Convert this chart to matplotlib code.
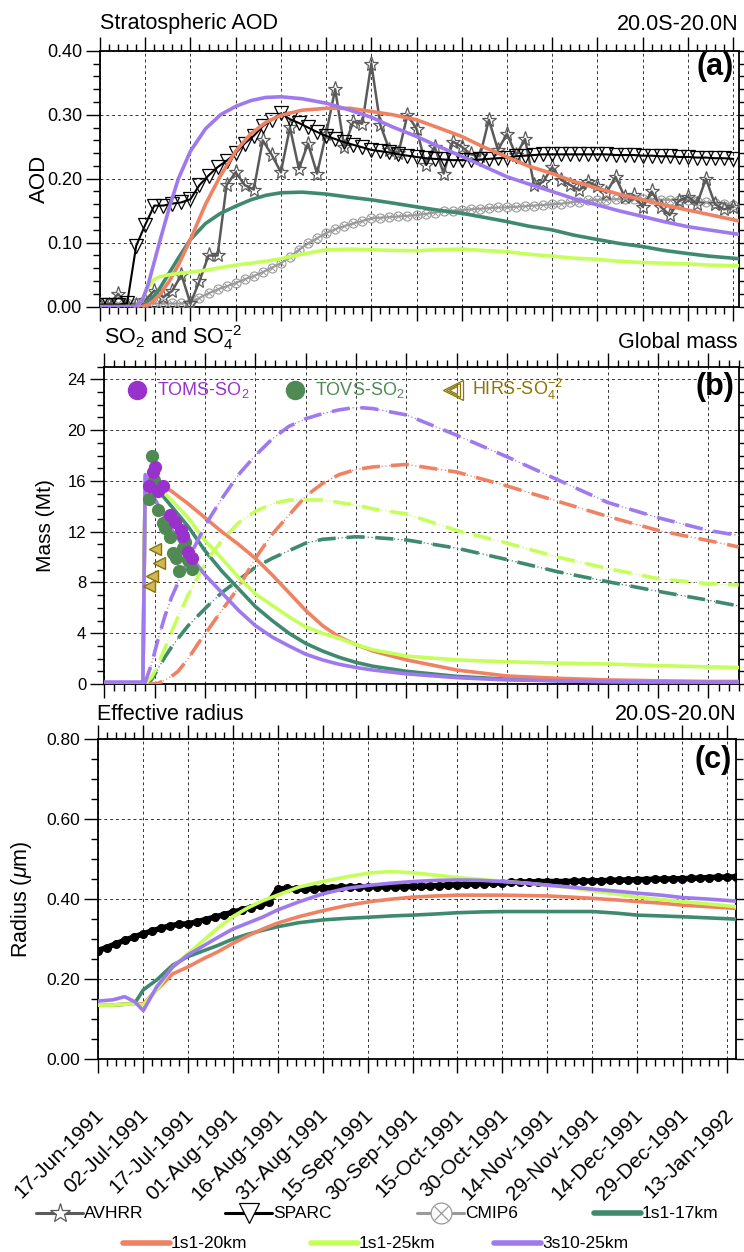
import numpy as np
import matplotlib
matplotlib.use('Agg')
import matplotlib.pyplot as plt
import matplotlib.transforms as mtransforms
from matplotlib.lines import Line2D
from matplotlib.ticker import MultipleLocator, FixedLocator

plt.rcParams['font.family'] = ['Liberation Sans', 'DejaVu Sans']
plt.rcParams['mathtext.fontset'] = 'custom'
plt.rcParams['mathtext.rm'] = 'Liberation Sans'
plt.rcParams['mathtext.it'] = 'Liberation Sans:italic'
plt.rcParams['mathtext.bf'] = 'Liberation Sans:bold'

# ---------------- x axis (days since 17-Jun-1991) ----------------
tick_days = [0, 15, 30, 45, 60, 75, 90, 105, 120, 135, 150, 165, 180, 195, 210]
tick_labels = ['17-Jun-1991', '02-Jul-1991', '17-Jul-1991', '01-Aug-1991', '16-Aug-1991',
               '31-Aug-1991', '15-Sep-1991', '30-Sep-1991', '15-Oct-1991', '30-Oct-1991',
               '14-Nov-1991', '29-Nov-1991', '14-Dec-1991', '29-Dec-1991', '13-Jan-1992']

# ---------------- panel (a): stratospheric AOD ----------------
days_obs_a = list(range(0, 211, 3))
avhrr = [0.003, 0.003, 0.02, 0.003, 0.003, 0.01, 0.025, 0.015, 0.025, 0.05,
         0.005, 0.04, 0.08, 0.08, 0.19, 0.21, 0.19, 0.183, 0.26, 0.237,
         0.21, 0.28, 0.215, 0.255, 0.208, 0.27, 0.34, 0.25, 0.289, 0.286,
         0.38, 0.284, 0.245, 0.24, 0.3, 0.278, 0.222, 0.25, 0.208, 0.258,
         0.25, 0.238, 0.235, 0.292, 0.245, 0.27, 0.237, 0.262, 0.19, 0.195,
         0.218, 0.198, 0.19, 0.182, 0.195, 0.188, 0.178, 0.203, 0.172, 0.174,
         0.156, 0.18, 0.156, 0.143, 0.165, 0.172, 0.16, 0.2, 0.16, 0.152, 0.156]
sparc = [0.003, 0.003, 0.003, 0.005, 0.095, 0.128, 0.158, 0.158, 0.161, 0.163,
         0.168, 0.19, 0.205, 0.218, 0.228, 0.24, 0.255, 0.267, 0.282, 0.292,
         0.302, 0.293, 0.287, 0.28, 0.273, 0.267, 0.262, 0.257, 0.253, 0.249,
         0.245, 0.243, 0.241, 0.238, 0.236, 0.234, 0.232, 0.231, 0.23, 0.229,
         0.229, 0.229, 0.23, 0.231, 0.232, 0.233, 0.235, 0.236, 0.237, 0.238,
         0.238, 0.238, 0.238, 0.238, 0.238, 0.238, 0.238, 0.237, 0.237, 0.237,
         0.236, 0.236, 0.235, 0.235, 0.234, 0.234, 0.233, 0.233, 0.232, 0.232, 0.231]
cmip6 = [0.005, 0.005, 0.005, 0.005, 0.005, 0.005, 0.005, 0.005, 0.005, 0.005,
         0.006, 0.014, 0.021, 0.027, 0.032, 0.037, 0.043, 0.048, 0.054, 0.061,
         0.068, 0.078, 0.089, 0.099, 0.107, 0.115, 0.121, 0.126, 0.13, 0.134,
         0.138, 0.139, 0.14, 0.141, 0.142, 0.143, 0.145, 0.147, 0.149, 0.15,
         0.151, 0.152, 0.153, 0.154, 0.155, 0.155, 0.156, 0.157, 0.158, 0.159,
         0.16, 0.161, 0.163, 0.164, 0.166, 0.167, 0.167, 0.168, 0.168, 0.168,
         0.168, 0.168, 0.167, 0.167, 0.167, 0.167, 0.165, 0.163, 0.162, 0.161, 0.159]

days_mod_a = [0, 10, 12, 14, 16, 18, 20, 23, 26, 30, 35, 40, 45, 50, 55, 60, 67, 75, 83,
              90, 97, 105, 112, 120, 127, 135, 142, 150, 157, 165, 172, 180, 187, 195, 202, 212]
aod_17km = [0, 0, 0, 0.0, 0.008, 0.017, 0.03, 0.053, 0.076, 0.105, 0.13, 0.146, 0.157,
            0.167, 0.174, 0.178, 0.179, 0.176, 0.171, 0.167, 0.162, 0.156, 0.151, 0.146,
            0.14, 0.133, 0.126, 0.12, 0.112, 0.105, 0.099, 0.094, 0.088, 0.083, 0.079, 0.075]
aod_20km = [0, 0, 0, 0, 0.003, 0.01, 0.02, 0.04, 0.065, 0.105, 0.16, 0.205, 0.243,
            0.27, 0.288, 0.299, 0.307, 0.31, 0.31, 0.305, 0.3, 0.292, 0.28, 0.266,
            0.25, 0.234, 0.22, 0.208, 0.196, 0.185, 0.176, 0.167, 0.159, 0.151, 0.144, 0.134]
aod_25km = [0, 0, 0, 0.01, 0.03, 0.043, 0.047, 0.05, 0.052, 0.054, 0.057, 0.061, 0.065,
            0.068, 0.071, 0.075, 0.082, 0.089, 0.09, 0.089, 0.088, 0.0875, 0.089, 0.09,
            0.088, 0.086, 0.082, 0.079, 0.076, 0.074, 0.071, 0.069, 0.068, 0.067, 0.065, 0.064]
aod_3s10 = [0, 0, 0.0, 0.01, 0.035, 0.07, 0.105, 0.155, 0.2, 0.243, 0.278, 0.3, 0.313,
            0.322, 0.327, 0.328, 0.325, 0.318, 0.307, 0.296, 0.281, 0.266, 0.251, 0.235,
            0.22, 0.203, 0.192, 0.18, 0.169, 0.159, 0.15, 0.141, 0.133, 0.125, 0.12, 0.113]

# ---------------- panel (b): SO2 and SO4 global mass (Mt) ----------------
days_so2 = [0, 11.5, 12.2, 15, 20, 25, 30, 35, 40, 45, 50, 55, 60, 65, 70, 75, 80,
            90, 105, 120, 135, 150, 165, 180, 189]
so2_17km = [0.1, 0.1, 16.3, 15.6, 14.0, 12.4, 10.5, 8.9, 7.5, 6.1, 5.0, 4.0, 3.2, 2.6,
            2.1, 1.7, 1.4, 1.0, 0.6, 0.38, 0.26, 0.17, 0.12, 0.1, 0.1]
so2_20km = [0.1, 0.1, 16.3, 16.0, 15.2, 14.2, 13.1, 12.0, 11.0, 9.9, 8.6, 7.2, 5.8, 4.6,
            3.7, 3.1, 2.6, 1.9, 1.1, 0.63, 0.45, 0.32, 0.25, 0.2, 0.2]
so2_25km = [0.1, 0.1, 16.3, 15.8, 14.5, 13.1, 11.3, 9.9, 8.4, 7.1, 6.2, 5.3, 4.5, 4.0,
            3.6, 3.1, 2.7, 2.2, 1.9, 1.75, 1.65, 1.58, 1.45, 1.35, 1.3]
so2_3s10 = [0.15, 0.15, 16.5, 14.6, 12.2, 10.3, 8.6, 7.2, 5.8, 4.6, 3.7, 3.0, 2.35, 1.9,
            1.55, 1.3, 1.1, 0.8, 0.5, 0.32, 0.25, 0.2, 0.17, 0.15, 0.15]

days_so4 = [12, 14, 16, 18, 20, 22, 25, 28, 31, 35, 40, 45, 50, 55, 60, 65, 70, 75, 80,
            90, 105, 120, 135, 150, 165, 180, 189]
so4_17km = [0, 0.3, 1.2, 2.1, 2.9, 3.6, 4.6, 5.4, 6.2, 7.2, 8.2, 9.2, 9.9, 10.5, 11.1,
            11.4, 11.5, 11.6, 11.55, 11.35, 10.7, 9.8, 8.85, 8.06, 7.3, 6.6, 6.15]
so4_20km = [0, 0, 0.05, 0.3, 0.6, 1.0, 2.0, 3.2, 4.3, 5.8, 7.6, 9.9, 11.8, 13.3, 14.8,
            15.8, 16.5, 16.9, 17.1, 17.3, 16.7, 15.6, 14.4, 13.2, 12.1, 11.3, 10.8]
so4_25km = [0, 0.5, 1.5, 2.8, 4.1, 5.3, 7.0, 8.5, 9.9, 11.3, 12.7, 13.6, 14.2, 14.5, 14.5,
            14.5, 14.3, 14.1, 13.8, 13.4, 12.1, 11.1, 10.0, 9.1, 8.3, 7.9, 7.8]
so4_3s10 = [0, 1.5, 3.5, 5.3, 6.8, 8.0, 9.8, 11.4, 12.9, 14.6, 16.5, 18.0, 19.3, 20.3, 20.9,
            21.3, 21.6, 21.8, 21.7, 21.2, 19.6, 17.9, 16.1, 14.3, 13.1, 12.1, 11.7]

toms_days = [13.3, 14.4, 15.1, 16.1, 17.6, 19.6, 21.1, 23.0, 23.5, 25.0, 26.0]
toms_mass = [15.6, 16.7, 17.1, 15.2, 15.6, 13.3, 12.8, 12.1, 11.7, 10.4, 9.9]
tovs_days = [14.1, 14.8, 13.3, 16.1, 17.4, 18.1, 19.6, 20.6, 21.5, 23.5, 24.0, 25.0, 26.0, 22.2]
tovs_mass = [18.0, 16.1, 14.6, 13.7, 12.7, 12.3, 11.6, 10.3, 9.9, 10.7, 11.2, 9.8, 9.1, 8.9]
hirs_days = [15.1, 16.4, 14.1, 13.4]
hirs_mass = [10.6, 9.5, 8.5, 7.7]

# ---------------- panel (c): effective radius (um) ----------------
days_obs_c = list(range(0, 214, 3))
radius_obs = [0.271, 0.279, 0.288, 0.297, 0.305, 0.313, 0.32, 0.327, 0.333, 0.337,
              0.338, 0.343, 0.349, 0.355, 0.361, 0.367, 0.373, 0.379, 0.385, 0.392,
              0.425, 0.427, 0.425, 0.425, 0.426, 0.428, 0.429, 0.43, 0.43, 0.431,
              0.431, 0.431, 0.431, 0.431, 0.431, 0.432, 0.432, 0.433, 0.434, 0.435,
              0.436, 0.437, 0.438, 0.439, 0.44, 0.441, 0.442, 0.443, 0.443, 0.444,
              0.444, 0.444, 0.444, 0.445, 0.445, 0.446, 0.446, 0.447, 0.448, 0.448,
              0.449, 0.449, 0.45, 0.45, 0.451, 0.451, 0.452, 0.453, 0.454, 0.455,
              0.455, 0.456]
days_mod_c = [0, 5, 9, 12.4, 15.2, 19.7, 25, 30, 35, 40, 45, 50, 55, 60, 67, 75, 83, 91,
              98, 105, 113, 120, 128, 135, 143, 150, 158, 165, 173, 180, 188, 195, 204, 213]
reff_17km = [0.135, 0.135, 0.137, 0.14, 0.173, 0.198, 0.235, 0.256, 0.27, 0.284, 0.3,
             0.312, 0.322, 0.331, 0.341, 0.348, 0.352, 0.355, 0.358, 0.36, 0.363, 0.366,
             0.368, 0.369, 0.369, 0.369, 0.369, 0.369, 0.365, 0.36, 0.358, 0.356, 0.353, 0.35]
reff_20km = [0.135, 0.135, 0.137, 0.138, 0.138, 0.173, 0.213, 0.23, 0.25, 0.268, 0.289,
             0.308, 0.325, 0.34, 0.356, 0.371, 0.384, 0.394, 0.4, 0.405, 0.408, 0.41,
             0.41, 0.41, 0.409, 0.408, 0.405, 0.402, 0.398, 0.394, 0.39, 0.385, 0.381, 0.377]
reff_25km = [0.135, 0.135, 0.137, 0.138, 0.135, 0.173, 0.23, 0.263, 0.295, 0.327, 0.356,
             0.378, 0.396, 0.41, 0.43, 0.444, 0.456, 0.466, 0.469, 0.466, 0.46, 0.454,
             0.449, 0.445, 0.44, 0.435, 0.428, 0.421, 0.413, 0.405, 0.399, 0.394, 0.388, 0.381]
reff_3s10 = [0.145, 0.148, 0.156, 0.143, 0.121, 0.181, 0.23, 0.26, 0.282, 0.304, 0.325,
             0.34, 0.355, 0.373, 0.393, 0.413, 0.427, 0.435, 0.44, 0.444, 0.447, 0.448,
             0.447, 0.444, 0.44, 0.435, 0.43, 0.425, 0.42, 0.415, 0.41, 0.404, 0.4, 0.395]

model_names = ['1s1-17km', '1s1-20km', '1s1-25km', '3s10-25km']
model_colors = ['#3f8a6f', '#ee8262', '#c5ff5a', '#9f79ee']
C_AVHRR = '#5a5a5a'
C_CMIP = '#9a9a9a'
C_TOMS = '#9932cc'
C_TOVS = '#4f8a52'
C_HIRS = '#8b7500'

# ---------------- figure ----------------
W, H = 744, 1252
fig = plt.figure(figsize=(W / 100, H / 100), dpi=100)


def fx(x):
    return x / W


def fy(y):
    return 1 - y / H


def add_axes(l, t, r, b):
    return fig.add_axes([fx(l), fy(b), fx(r) - fx(l), fy(t) - fy(b)])


axa = add_axes(100, 50.7, 738.5, 306.7)
axb = add_axes(104.3, 366.7, 739, 684)
axc = add_axes(97.7, 739.3, 736, 1059)


def style(ax, xmax, ymax, ymaj, ymin, fmt, fs):
    ax.set_xlim(0, xmax)
    ax.set_ylim(0, ymax)
    ticks = [d for d in tick_days if d <= xmax]
    ax.xaxis.set_major_locator(FixedLocator(ticks))
    ax.xaxis.set_minor_locator(MultipleLocator(3))
    ax.yaxis.set_major_locator(MultipleLocator(ymaj))
    ax.yaxis.set_minor_locator(MultipleLocator(ymin))
    ax.yaxis.set_major_formatter(plt.FuncFormatter(lambda v, p: fmt.format(v)))
    ax.tick_params(which='both', direction='out', top=True, right=True, width=1.0,
                   labelsize=fs, color='black')
    ax.tick_params(which='major', length=10, pad=3)
    ax.tick_params(which='minor', length=5)
    for s in ax.spines.values():
        s.set_linewidth(1.3)
    ax.grid(True, which='major', ls=(0, (3, 3)), lw=0.7, color='#333333')
    ax.set_axisbelow(True)


style(axa, 211.8, 0.40, 0.10, 0.02, '{:.2f}', 13)
style(axb, 189.1, 25, 4, 1, '{:.0f}', 12)
style(axc, 212.9, 0.80, 0.20, 0.05, '{:.2f}', 12.5)
axa.set_xticklabels([])
axb.set_xticklabels([])
axc.set_xticklabels(tick_labels, rotation=45, ha='right', va='top',
                    rotation_mode='anchor', fontsize=15)
axc.tick_params(axis='x', which='major', pad=8)
shift = mtransforms.ScaledTranslation(-4 / 100, -21 / 100, fig.dpi_scale_trans)
for lab in axc.get_xticklabels():
    lab.set_transform(lab.get_transform() + shift)

# ---- panel a
axa.plot(days_obs_a, cmip6, color=C_CMIP, lw=1.5, marker='o', ms=6.5, mfc='none',
         mec=C_CMIP, mew=0.8, zorder=3)
axa.plot(days_obs_a, cmip6, ls='none', marker='x', ms=4.5, mec=C_CMIP, mew=0.7, zorder=3)
axa.plot(days_obs_a, avhrr, color=C_AVHRR, lw=1.8, marker='*', ms=11, mfc='none',
         mec=C_AVHRR, mew=0.9, zorder=4)
axa.plot(days_obs_a, sparc, color='black', lw=1.5, marker='v', ms=9.5, mfc='none',
         mec='black', mew=0.9, zorder=4)
for vals, c in zip([aod_17km, aod_20km, aod_25km, aod_3s10], model_colors):
    axa.plot(days_mod_a, vals, color=c, lw=2.6, zorder=5, solid_capstyle='butt')
axa.set_ylabel('AOD', fontsize=16)
axa.yaxis.set_label_coords(-0.078, 0.5)

# ---- panel b
for so2, so4, c in zip([so2_17km, so2_20km, so2_25km, so2_3s10],
                       [so4_17km, so4_20km, so4_25km, so4_3s10], model_colors):
    axb.plot(days_so2, so2, color=c, lw=2.6, zorder=4)
    axb.plot(days_so4, so4, color=c, lw=0.9, ls=(0, (1, 2)), zorder=4)
    axb.plot(days_so4, so4, color=c, lw=2.6, ls=(0, (5, 3)), zorder=4)
axb.plot(tovs_days, tovs_mass, ls='none', marker='o', ms=8.5, color=C_TOVS, zorder=6)
axb.plot(toms_days, toms_mass, ls='none', marker='o', ms=8.5, color=C_TOMS, zorder=7)
axb.plot(hirs_days, hirs_mass, ls='none', marker='<', ms=8.5, mfc='#cdb85a', mec=C_HIRS,
         mew=1.0, zorder=8)
axb.set_ylabel('Mass (Mt)', fontsize=15)
axb.yaxis.set_label_coords(-0.078, 0.5)

# in-panel legend of observations
axb.plot([0.051], [0.927], transform=axb.transAxes, marker='o', ms=13, color=C_TOMS,
         clip_on=False, zorder=9)
axb.text(0.083, 0.927, 'TOMS-SO$_2$', transform=axb.transAxes, color=C_TOMS,
         fontsize=13, va='center', ha='left')
axb.plot([0.30], [0.927], transform=axb.transAxes, marker='o', ms=13, color=C_TOVS,
         clip_on=False, zorder=9)
axb.text(0.332, 0.927, 'TOVS-SO$_2$', transform=axb.transAxes, color=C_TOVS,
         fontsize=13, va='center', ha='left')
for ms in (14, 10, 6):
    axb.plot([0.549], [0.927], transform=axb.transAxes, marker='<', ms=ms, mfc='none',
             mec=C_HIRS, mew=0.9, clip_on=False, zorder=9)
axb.text(0.579, 0.927, 'HIRS-SO$_4^{-2}$', transform=axb.transAxes, color=C_HIRS,
         fontsize=13, va='center', ha='left')

# ---- panel c
axc.plot(days_obs_c, radius_obs, color='black', lw=4, marker='o', ms=5.5, zorder=4)
for vals, c in zip([reff_17km, reff_20km, reff_25km, reff_3s10], model_colors):
    axc.plot(days_mod_c, vals, color=c, lw=2.6, zorder=5)
axc.set_ylabel(r'Radius ($\mu$m)', fontsize=15.5)
axc.yaxis.set_label_coords(-0.1, 0.5)

# ---- titles and panel letters
TFS = 15.5
fig.text(fx(100), fy(23), 'Stratospheric AOD', fontsize=TFS, ha='left', va='center')
fig.text(fx(738), fy(25), '20.0S-20.0N', fontsize=TFS, ha='right', va='center')
fig.text(fx(104), fy(338), 'SO$_2$ and SO$_4^{-2}$', fontsize=TFS, ha='left', va='center')
fig.text(fx(737), fy(342), 'Global mass', fontsize=TFS, ha='right', va='center')
fig.text(fx(97), fy(714), 'Effective radius', fontsize=TFS, ha='left', va='center')
fig.text(fx(737), fy(715), '20.0S-20.0N', fontsize=TFS, ha='right', va='center')
for ax, lab in zip([axa, axb, axc], ['(a)', '(b)', '(c)']):
    ax.text(0.993, 0.935, lab, transform=ax.transAxes, fontsize=22, fontweight='bold',
            ha='right', va='center', zorder=10)

# ---- bottom legend
leg_names = ['AVHRR', 'SPARC', 'CMIP6'] + model_names
leg_x = [36, 225, 417, 594, 123, 311, 494]
leg_y = [1213, 1213, 1213, 1213, 1243, 1243, 1243]
leg_colors = [C_AVHRR, 'black', C_CMIP] + model_colors
leg_markers = ['*', 'v', 'o', None, None, None, None]
for name, x0, y0, c, m in zip(leg_names, leg_x, leg_y, leg_colors, leg_markers):
    lw = 2.2 if m else 4.0
    fig.add_artist(Line2D([fx(x0), fx(x0 + 47)], [fy(y0), fy(y0)], color=c, lw=lw,
                          transform=fig.transFigure, solid_capstyle='round'))
    if m:
        fig.add_artist(Line2D([fx(x0 + 23.5)], [fy(y0)], marker=m, ms=15, mfc='white',
                              mec=c, mew=0.9, ls='none', transform=fig.transFigure))
        if m == 'o':
            fig.add_artist(Line2D([fx(x0 + 23.5)], [fy(y0)], marker='x', ms=10, mec=c,
                                  mew=0.9, ls='none', transform=fig.transFigure))
    fig.text(fx(x0 + 48), fy(y0), name, fontsize=12.5, ha='left', va='center')

fig.savefig('out.png', dpi=100)
